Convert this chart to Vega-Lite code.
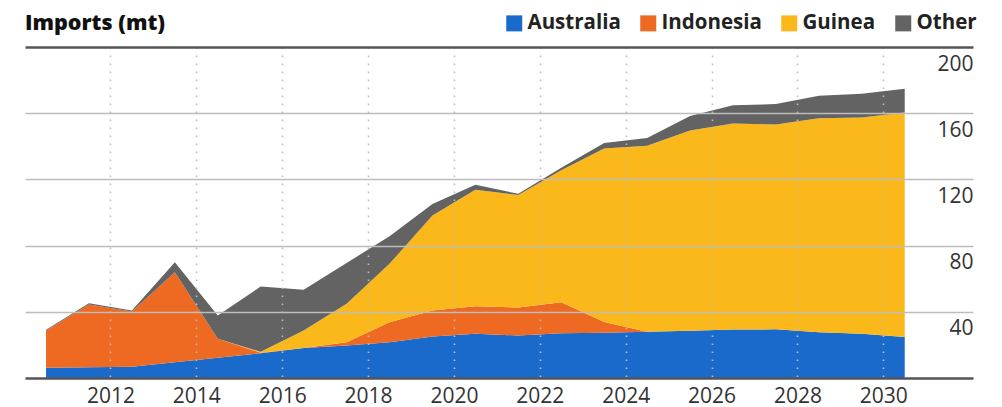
{
  "$schema": "https://vega.github.io/schema/vega-lite/v6.json",
  "width": 948,
  "height": 331,
  "autosize": {"type": "none"},
  "padding": {"left": 25, "top": 47, "right": 29, "bottom": 29},
  "background": "white",
  "title": {
    "text": "Imports (mt)",
    "anchor": "start",
    "frame": "group",
    "font": "Open Sans",
    "fontSize": 21.5,
    "fontWeight": 800,
    "color": "#111111",
    "baseline": "alphabetic",
    "offset": 0,
    "dy": 38
  },
  "config": {"view": {"stroke": null}},
  "data": {
    "values": [
      {"year": 2010, "source": "Australia", "value": 6.2},
      {"year": 2010, "source": "Indonesia", "value": 22.5},
      {"year": 2010, "source": "Guinea", "value": 0},
      {"year": 2010, "source": "Other", "value": 0.5},
      {"year": 2011, "source": "Australia", "value": 6.5},
      {"year": 2011, "source": "Indonesia", "value": 37.9},
      {"year": 2011, "source": "Guinea", "value": 0},
      {"year": 2011, "source": "Other", "value": 0.8},
      {"year": 2012, "source": "Australia", "value": 6.8},
      {"year": 2012, "source": "Indonesia", "value": 33.4},
      {"year": 2012, "source": "Guinea", "value": 0},
      {"year": 2012, "source": "Other", "value": 0.6},
      {"year": 2013, "source": "Australia", "value": 9.5},
      {"year": 2013, "source": "Indonesia", "value": 54.4},
      {"year": 2013, "source": "Guinea", "value": 0},
      {"year": 2013, "source": "Other", "value": 6.1},
      {"year": 2014, "source": "Australia", "value": 12.2},
      {"year": 2014, "source": "Indonesia", "value": 11.5},
      {"year": 2014, "source": "Guinea", "value": 0},
      {"year": 2014, "source": "Other", "value": 14.1},
      {"year": 2015, "source": "Australia", "value": 15},
      {"year": 2015, "source": "Indonesia", "value": 0.3},
      {"year": 2015, "source": "Guinea", "value": 0.5},
      {"year": 2015, "source": "Other", "value": 39.5},
      {"year": 2016, "source": "Australia", "value": 18.2},
      {"year": 2016, "source": "Indonesia", "value": 0},
      {"year": 2016, "source": "Guinea", "value": 10.5},
      {"year": 2016, "source": "Other", "value": 24.6},
      {"year": 2017, "source": "Australia", "value": 19.6},
      {"year": 2017, "source": "Indonesia", "value": 2},
      {"year": 2017, "source": "Guinea", "value": 23.2},
      {"year": 2017, "source": "Other", "value": 24.7},
      {"year": 2018, "source": "Australia", "value": 21.6},
      {"year": 2018, "source": "Indonesia", "value": 12.1},
      {"year": 2018, "source": "Guinea", "value": 35.3},
      {"year": 2018, "source": "Other", "value": 16.6},
      {"year": 2019, "source": "Australia", "value": 25.1},
      {"year": 2019, "source": "Indonesia", "value": 15.7},
      {"year": 2019, "source": "Guinea", "value": 57.4},
      {"year": 2019, "source": "Other", "value": 7},
      {"year": 2020, "source": "Australia", "value": 26.7},
      {"year": 2020, "source": "Indonesia", "value": 16.7},
      {"year": 2020, "source": "Guinea", "value": 70.3},
      {"year": 2020, "source": "Other", "value": 3},
      {"year": 2021, "source": "Australia", "value": 25.7},
      {"year": 2021, "source": "Indonesia", "value": 16.9},
      {"year": 2021, "source": "Guinea", "value": 67.9},
      {"year": 2021, "source": "Other", "value": 0.8},
      {"year": 2022, "source": "Australia", "value": 27},
      {"year": 2022, "source": "Indonesia", "value": 18.8},
      {"year": 2022, "source": "Guinea", "value": 79.7},
      {"year": 2022, "source": "Other", "value": 1.5},
      {"year": 2023, "source": "Australia", "value": 27.4},
      {"year": 2023, "source": "Indonesia", "value": 6.5},
      {"year": 2023, "source": "Guinea", "value": 104.7},
      {"year": 2023, "source": "Other", "value": 3.4},
      {"year": 2024, "source": "Australia", "value": 27.9},
      {"year": 2024, "source": "Indonesia", "value": 0},
      {"year": 2024, "source": "Guinea", "value": 112.4},
      {"year": 2024, "source": "Other", "value": 4.7},
      {"year": 2025, "source": "Australia", "value": 28.6},
      {"year": 2025, "source": "Indonesia", "value": 0},
      {"year": 2025, "source": "Guinea", "value": 121},
      {"year": 2025, "source": "Other", "value": 8.7},
      {"year": 2026, "source": "Australia", "value": 29.3},
      {"year": 2026, "source": "Indonesia", "value": 0},
      {"year": 2026, "source": "Guinea", "value": 124.5},
      {"year": 2026, "source": "Other", "value": 11},
      {"year": 2027, "source": "Australia", "value": 29.4},
      {"year": 2027, "source": "Indonesia", "value": 0},
      {"year": 2027, "source": "Guinea", "value": 123.8},
      {"year": 2027, "source": "Other", "value": 12.3},
      {"year": 2028, "source": "Australia", "value": 27.7},
      {"year": 2028, "source": "Indonesia", "value": 0},
      {"year": 2028, "source": "Guinea", "value": 129.2},
      {"year": 2028, "source": "Other", "value": 13.6},
      {"year": 2029, "source": "Australia", "value": 26.7},
      {"year": 2029, "source": "Indonesia", "value": 0},
      {"year": 2029, "source": "Guinea", "value": 130.7},
      {"year": 2029, "source": "Other", "value": 14.3},
      {"year": 2030, "source": "Australia", "value": 24.7},
      {"year": 2030, "source": "Indonesia", "value": 0},
      {"year": 2030, "source": "Guinea", "value": 135.7},
      {"year": 2030, "source": "Other", "value": 14.4}
    ]
  },
  "transform": [
    {"calculate": "indexof(['Australia', 'Indonesia', 'Guinea', 'Other'], datum.source)", "as": "stackOrder"}
  ],
  "mark": {"type": "area", "interpolate": "linear", "strokeWidth": 0},
  "encoding": {
    "x": {
      "field": "year",
      "type": "quantitative",
      "scale": {"domain": [2009.51, 2031.59], "nice": false, "zero": false},
      "axis": {
        "title": null,
        "values": [2011.5, 2013.5, 2015.5, 2017.5, 2019.5, 2021.5, 2023.5, 2025.5, 2027.5, 2029.5],
        "labelExpr": "format(datum.value + 0.5, 'd')",
        "domain": false,
        "ticks": false,
        "labelPadding": 7,
        "labelFont": "Open Sans",
        "labelFontSize": 21,
        "labelColor": "#333333",
        "labelFlush": false,
        "grid": true,
        "gridColor": "#bdbdbd",
        "gridWidth": 1.6,
        "gridDash": [1.6, 6.4],
        "zindex": 1
      }
    },
    "y": {
      "field": "value",
      "type": "quantitative",
      "stack": "zero",
      "scale": {"domain": [0, 200], "nice": false},
      "axis": {
        "orient": "right",
        "title": null,
        "values": [0, 40, 80, 120, 160, 200],
        "domain": false,
        "ticks": false,
        "labelAlign": "right",
        "labelBaseline": "middle",
        "labelPadding": 0,
        "labelOffset": 17,
        "labelExpr": "datum.value === 0 ? '' : datum.label",
        "labelFont": "Open Sans",
        "labelFontSize": 21,
        "labelColor": "#333333",
        "grid": true,
        "gridColor": {"condition": {"test": "datum.value === 0 || datum.value === 200", "value": "#555555"}, "value": "#bdbdbd"},
        "gridWidth": {"condition": {"test": "datum.value === 0 || datum.value === 200", "value": 2.5}, "value": 1.5},
        "zindex": 1
      }
    },
    "color": {
      "field": "source",
      "type": "nominal",
      "sort": ["Australia", "Indonesia", "Guinea", "Other"],
      "scale": {
        "domain": ["Australia", "Indonesia", "Guinea", "Other"],
        "range": ["#1a6acb", "#ee6a22", "#fbb81a", "#636363"]
      },
      "legend": {
        "title": null,
        "orient": "none",
        "direction": "horizontal",
        "legendX": 479,
        "legendY": -34,
        "padding": 0,
        "symbolType": "square",
        "symbolSize": 256,
        "symbolStrokeWidth": 0,
        "symbolOpacity": 1,
        "labelOffset": 3,
        "columnPadding": 17,
        "labelFont": "Open Sans",
        "labelFontSize": 20.5,
        "labelFontWeight": "bold",
        "labelColor": "#222222"
      }
    },
    "order": {"field": "stackOrder", "type": "quantitative", "sort": "ascending"}
  }
}
